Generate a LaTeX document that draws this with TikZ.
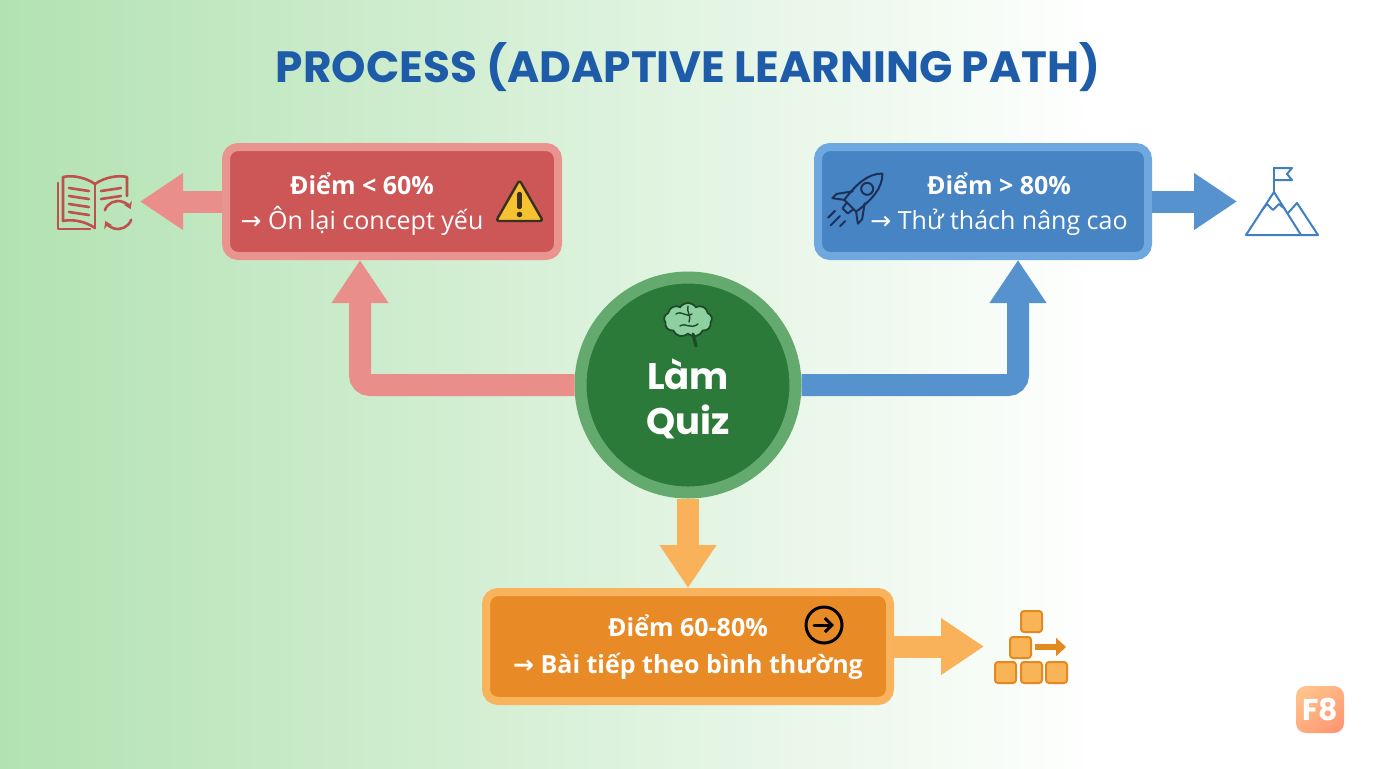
\documentclass[tikz,border=0pt]{standalone}
\usepackage{fontspec}
\setmainfont{Open Sans}
\newfontfamily\titlefont{Poppins}
\newfontfamily\symfont{DejaVu Sans}
\usetikzlibrary{positioning, arrows.meta, shapes.symbols, shadings}

\definecolor{bgGreen}{HTML}{B2E2B2}
\definecolor{titleBlue}{HTML}{1E5CAA}
\definecolor{redFill}{HTML}{CD5656}
\definecolor{redEdge}{HTML}{EA948F}
\definecolor{redArrow}{HTML}{E98E8A}
\definecolor{blueFill}{HTML}{4784C4}
\definecolor{blueEdge}{HTML}{6EA8DE}
\definecolor{blueArrow}{HTML}{5592CE}
\definecolor{greenFill}{HTML}{2B7A3A}
\definecolor{greenEdge}{HTML}{64A96D}
\definecolor{orangeFill}{HTML}{E88B26}
\definecolor{orangeEdge}{HTML}{F9B35C}
\definecolor{orangeArrow}{HTML}{F9B25A}
\definecolor{bookRed}{HTML}{C0504D}
\definecolor{warnYellow}{HTML}{F6C232}
\definecolor{warnDark}{HTML}{3A3020}
\definecolor{rocketNavy}{HTML}{1C3158}
\definecolor{peakBlue}{HTML}{3F80C2}
\definecolor{brainGreen}{HTML}{8ED0A0}
\definecolor{brainDark}{HTML}{1F4A2A}
\definecolor{blockFill}{HTML}{F9B458}
\definecolor{blockEdge}{HTML}{E4891F}
\definecolor{logoLight}{HTML}{FFC88E}
\definecolor{logoDark}{HTML}{FF9070}

\tikzset{
  box/.style={draw, rounded corners=6pt, line width=4pt, minimum height=54.5pt},
  boxtext/.style={text=white, align=center, font=\fontsize{12.5}{17.5}\selectfont},
  flow/.style={line width=11pt, rounded corners=5pt, -{Triangle[width=27pt,length=21.5pt]}},
  block/.style={fill=blockFill, draw=blockEdge, line width=1pt, rounded corners=1.5pt},
}

\begin{document}
\begin{tikzpicture}[x=0.5pt, y=-0.5pt]
	\useasboundingbox (0,0) rectangle (1376,768);
	\shade[left color=bgGreen, right color=white] (0,0) rectangle (1100,768);
	\fill[white] (1100,0) rectangle (1376,768);

	\node[text=titleBlue, font=\titlefont\bfseries\fontsize{21.9}{26}\selectfont] (title) at (688,67) {PROCESS (ADAPTIVE LEARNING PATH)};

	% boxes and the quiz circle
	\node[box, draw=redEdge, fill=redFill, minimum width=166pt] (low) at (392,201.5) {};
	\node[box, draw=blueEdge, fill=blueFill, minimum width=165pt] (high) at (983,201.5) {};
	\node[box, draw=orangeEdge, fill=orangeFill, minimum width=202pt] (mid) at (688,646.5) {};
	\node[circle, draw=greenEdge, fill=greenFill, line width=6pt, minimum size=107.5pt] (quiz) at (688,385) {};

	\node[boxtext] (lowtxt) at (362,204) {\textbf{Điểm < 60\%}\\{\symfont →} Ôn lại concept yếu};
	\node[boxtext] (hightxt) at (999,204) {\textbf{Điểm > 80\%}\\{\symfont →} Thử thách nâng cao};
	\node[boxtext, font=\bfseries\fontsize{12.5}{18.5}\selectfont] (midtxt) at (688,647) {Điểm 60-80\%\\{\symfont →} Bài tiếp theo bình thường};
	\node[text=white, align=center, font=\titlefont\bfseries\fontsize{18.5}{22.5}\selectfont] (quiztxt) at (688,399) {Làm\\Quiz};

	% connectors
	\coordinate (bookTip) at (140,201.5);
	\coordinate (peakTip) at (1237,201.5);
	\coordinate (blockTip) at (984,646.5);
	\draw[flow, redArrow] (quiz.west) -| ([xshift=-16pt]low.south);
	\draw[flow, blueArrow] (quiz.east) -| ([xshift=17.5pt]high.south);
	\draw[flow, orangeArrow] (quiz.south) -- (mid.north);
	\draw[flow, redArrow] (low.west) -- (bookTip);
	\draw[flow, blueArrow] (high.east) -- (peakTip);
	\draw[flow, orangeArrow] (mid.east) -- (blockTip);

	% book with refresh
	\begin{scope}[draw=bookRed, line width=1.3pt, line cap=round, line join=round]
		\draw (95,184) .. controls (85,177) and (72,175) .. (63,177) -- (63,221) .. controls (72,219) and (85,221) .. (95,228);
		\draw (95,184) .. controls (105,177) and (118,175) .. (127,177) -- (127,196);
		\draw (95,184) -- (95,228);
		\draw (58,183) -- (58,229) -- (90,229);
		\foreach \y in {188,196,204,212}
			\draw (69,\y) -- (89,\y+3);
		\foreach \y in {191,199}
			\draw (101,\y) -- (121,\y-3);
		\draw[-{Stealth[length=3.5pt,width=4.5pt]}] (118,215) ++(160:7pt) arc[start angle=160, end angle=25, radius=7pt];
		\draw[-{Stealth[length=3.5pt,width=4.5pt]}] (118,215) ++(-20:7pt) arc[start angle=-20, end angle=-155, radius=7pt];
	\end{scope}

	% warning sign
	\draw[fill=warnYellow, draw=warnDark, line width=1.2pt, line join=round, rounded corners=1.5pt] (519.5,180) -- (543,221) -- (496,221) -- cycle;
	\draw[warnDark, line width=2.2pt, line cap=round] (519.5,194) -- (519.5,207);
	\fill[warnDark] (519.5,214.5) circle[radius=1.4pt];

	% rocket
	\begin{scope}[shift={(857,199)}, rotate=-45, scale=1.2, draw=rocketNavy, line width=1pt, line join=round, line cap=round]
		\draw (0,-30) .. controls (9,-21) and (9,-8) .. (7,8) -- (-7,8) .. controls (-9,-8) and (-9,-21) .. (0,-30) -- cycle;
		\draw (0,-12) circle[radius=2.5pt];
		\draw (-7,-2) -- (-15,9) -- (-15,14) -- (-7,8);
		\draw (7,-2) -- (15,9) -- (15,14) -- (7,8);
		\draw (-4,8) -- (-3,14) -- (3,14) -- (4,8);
		\draw (-6,20) -- (-6,28);
		\draw (0,20) -- (0,31);
		\draw (6,20) -- (6,26);
	\end{scope}

	% mountain with flag
	\begin{scope}[draw=peakBlue, line width=1pt, line join=round]
		\draw (1246,235) -- (1274,192) -- (1301,235) -- cycle;
		\draw (1288,213) -- (1297,203) -- (1318,235) -- (1301,235);
		\draw (1262,210) -- (1267,204) -- (1273,210) -- (1279,204) -- (1285,209);
		\draw (1274,192) -- (1274,167);
		\draw (1274,168) -- (1292,168) -- (1287,174) -- (1292,180) -- (1274,180);
	\end{scope}

	% brain
	\node[cloud, cloud puffs=9, cloud puff arc=110, aspect=1.4, draw=brainDark, fill=brainGreen, line width=0.9pt, minimum width=24pt, minimum height=17pt, inner sep=0pt] (brain) at (688,320) {};
	\begin{scope}[draw=brainDark, line width=0.7pt, line cap=round]
		\draw (676,314) .. controls (682,310) and (686,318) .. (692,314);
		\draw (680,326) .. controls (686,322) and (690,330) .. (698,324);
		\draw (688,306) .. controls (686,312) and (692,316) .. (689,322);
		\draw[line width=1.6pt] (693,334) -- (696,346);
	\end{scope}

	% next icon
	\draw[line width=1.5pt] (824,625) circle[radius=9pt];
	\draw[line width=1.5pt, line cap=round, -{Straight Barb[length=3.5pt,width=7pt]}] (814,625) -- (834,625);

	% blocks
	\foreach \x/\y in {1021/611, 1010/637, 995/662, 1021/662, 1046/662}
		\draw[block] (\x,\y) rectangle ++(21,21);
	\draw[blockEdge, line width=3pt, -{Triangle[length=5pt,width=9pt]}] (1035,647) -- (1066,647);

	% logo
	\shade[upper left=logoLight, upper right=logoLight!60!logoDark, lower left=logoLight!50!logoDark, lower right=logoDark, rounded corners=5pt] (1296,686) rectangle (1344,733);
	\node[text=white, font=\titlefont\bfseries\fontsize{15}{15}\selectfont] (logo) at (1320,710) {F8};
\end{tikzpicture}
\end{document}
